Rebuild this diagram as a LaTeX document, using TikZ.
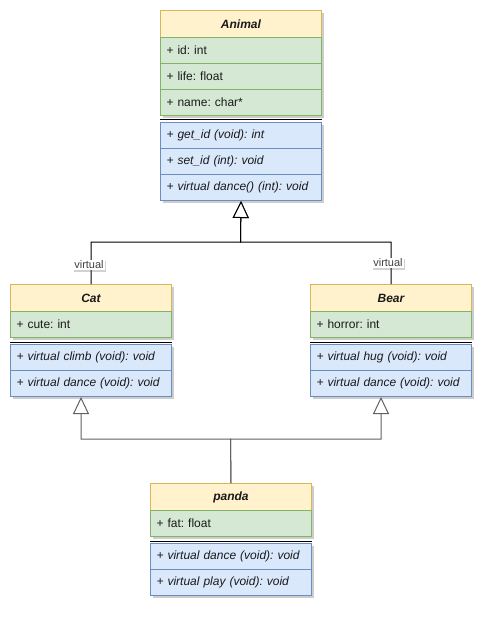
\documentclass[tikz,border=0pt]{standalone}
\usepackage{fontspec}
\setmainfont{Liberation Sans}
\usetikzlibrary{arrows.meta,shadows}
\frenchspacing
\definecolor{hdrfill}{HTML}{FFF2CC}
\definecolor{hdrline}{HTML}{D6B656}
\definecolor{attrfill}{HTML}{D5E8D4}
\definecolor{attrline}{HTML}{82B366}
\definecolor{opfill}{HTML}{DAE8FC}
\definecolor{opline}{HTML}{6C8EBF}
\definecolor{txt}{HTML}{1A1A1A}
\begin{document}
\begin{tikzpicture}[x=0.75pt,y=-0.75pt,
  row/.style={draw, anchor=north west, line width=0.75pt,
    minimum width=120.75pt, minimum height=19.5pt, inner ysep=0pt,
    inner xsep=4.5pt, text width=111.75pt, align=left, text=txt,
    font=\fontsize{9}{11}\selectfont,
    drop shadow={shadow xshift=1.6pt, shadow yshift=-1.6pt, opacity=0.28, fill=black!70}},
  hdr/.style={row, draw=hdrline, fill=hdrfill, minimum height=20.25pt, align=center,
    font=\fontsize{9}{11}\selectfont\bfseries\itshape},
  attr/.style={row, draw=attrline, fill=attrfill},
  op/.style={row, draw=opline, fill=opfill, font=\fontsize{9}{11}\selectfont\itshape},
  sepline/.style={line width=0.75pt, black},
  gen/.style={line width=0.75pt, -{Triangle[length=12.75pt, width=12pt, fill=white, line width=0.75pt]}},
  genlow/.style={gen, draw=black!62},
  lbl/.style={fill=white, inner xsep=1pt, inner ysep=1pt, text=black!75,
    font=\fontsize{8.25}{10}\selectfont,
    drop shadow={shadow xshift=1pt, shadow yshift=-1pt, opacity=0.25, fill=black!70}}
]
\useasboundingbox (0,0) rectangle (492,619);

% Animal
\node[hdr]  (an)  at (160,10)  {Animal};
\node[attr] (an1) at (160,37)  {+ id: int};
\node[attr] (an2) at (160,63)  {+ life: float};
\node[attr] (an3) at (160,89)  {+ name: char*};
\draw[sepline] ([yshift=-2.7pt]an3.south west) -- ([yshift=-2.7pt]an3.south east);
\node[op]   (ao1) at (160,122) {+ get\_id (void): int};
\node[op]   (ao2) at (160,148) {+ set\_id (int): void};
\node[op]   (ao3) at (160,174) {+ virtual dance() (int): void};

% Cat
\node[hdr]  (cat)  at (10,284)  {Cat};
\node[attr] (cat1) at (10,311)  {+ cute: int};
\draw[sepline] ([yshift=-3pt]cat1.south west) -- ([yshift=-3pt]cat1.south east);
\node[op]   (co1)  at (10,344)  {+ virtual climb (void): void};
\node[op]   (co2)  at (10,370)  {+ virtual dance (void): void};

% Bear
\node[hdr]  (bear)  at (310,284) {Bear};
\node[attr] (bear1) at (310,311) {+ horror: int};
\draw[sepline] ([yshift=-3pt]bear1.south west) -- ([yshift=-3pt]bear1.south east);
\node[op]   (bo1)   at (310,344) {+ virtual hug (void): void};
\node[op]   (bo2)   at (310,370) {+ virtual dance (void): void};

% panda
\node[hdr]  (pa)  at (150,483) {panda};
\node[attr] (pa1) at (150,510) {+ fat: float};
\draw[sepline] ([yshift=-3pt]pa1.south west) -- ([yshift=-3pt]pa1.south east);
\node[op]   (po1) at (150,543) {+ virtual dance (void): void};
\node[op]   (po2) at (150,569) {+ virtual play (void): void};

% inheritance: Cat, Bear -> Animal
\coordinate (jup) at (240.5,242);
\draw[gen] (cat.north) |- (jup) -- (ao3.south);
\draw[gen] (bear.north) |- (jup) -- (ao3.south);

% inheritance: panda -> Cat, Bear
\coordinate (jlow) at (230.5,439);
\coordinate (catin) at ([xshift=-7.5pt]co2.south);
\coordinate (bearin) at ([xshift=-7.5pt]bo2.south);
\draw[genlow] (pa.north) -- (jlow) -| (catin);
\draw[genlow] (pa.north) -- (jlow) -| (bearin);

% edge labels
\node[lbl] (vcat)  at (89,265)    {virtual};
\node[lbl] (vbear) at (388,263)   {virtual};
\end{tikzpicture}
\end{document}
